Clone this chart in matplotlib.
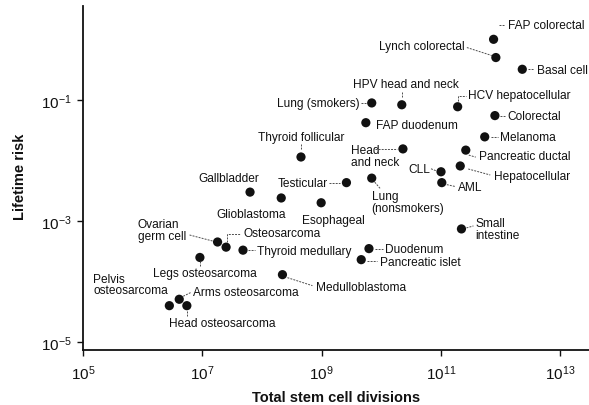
import matplotlib
matplotlib.use("Agg")
import matplotlib.pyplot as plt
from matplotlib.lines import Line2D
from matplotlib.transforms import IdentityTransform

plt.rcParams['font.family'] = ['Liberation Sans', 'DejaVu Sans']

# ---------------- data ----------------
labels = [
    "FAP colorectal", "Lynch colorectal", "Basal cell", "HPV head and neck",
    "Lung (smokers)", "HCV hepatocellular", "Colorectal", "FAP duodenum",
    "Melanoma", "Head\nand neck", "Pancreatic ductal", "Thyroid follicular",
    "Hepatocellular", "CLL", "AML", "Testicular", "Gallbladder", "Glioblastoma",
    "Lung\n(nonsmokers)", "Esophageal", "Small\nintestine", "Duodenum",
    "Pancreatic islet", "Medulloblastoma", "Thyroid medullary", "Osteosarcoma",
    "Ovarian\ngerm cell", "Legs osteosarcoma", "Arms osteosarcoma",
    "Pelvis\nosteosarcoma", "Head osteosarcoma",
]
stem_cell_divisions = [
    7.6e11, 8.3e11, 2.3e12, 2.2e10,
    6.9e9, 1.9e11, 8.0e11, 5.5e9,
    5.4e11, 2.3e10, 2.6e11, 4.5e8,
    2.1e11, 1.0e11, 1.03e11, 2.6e9, 6.3e7, 2.1e8,
    6.9e9, 9.8e8, 2.2e11, 6.2e9,
    4.6e9, 2.2e8, 4.8e7, 2.5e7,
    1.8e7, 9.1e6, 4.1e6,
    2.8e6, 5.5e6,
]
lifetime_risk = [
    1.0, 0.5, 0.32, 0.083,
    0.089, 0.077, 0.055, 0.042,
    0.0245, 0.0155, 0.0148, 0.0114,
    0.0081, 0.0065, 0.0043, 0.0043, 0.0030, 0.0024,
    0.0051, 0.0020, 0.00074, 0.00035,
    0.00023, 0.00013, 0.00033, 0.00037,
    0.00045, 0.00025, 5.1e-5,
    4.0e-5, 4.0e-5,
]
x_ticks = [1e5, 1e7, 1e9, 1e11, 1e13]
y_ticks = [1e-5, 1e-3, 1e-1]
x_label = "Total stem cell divisions"
y_label = "Lifetime risk"

# ---------------- layout (pixel offsets from each dot, y downward) ----------------
text_pos = {
    "FAP colorectal": (14, -14, "left"),
    "Lynch colorectal": (-31, -12, "right"),
    "Basal cell": (15, 1, "left"),
    "HPV head and neck": (4, -21, "center"),
    "Lung (smokers)": (-12, 0, "right"),
    "HCV hepatocellular": (10, -12, "left"),
    "Colorectal": (12, 0, "left"),
    "FAP duodenum": (10, 2, "left"),
    "Melanoma": (15, 0, "left"),
    "Head\nand neck": (-52, 7, "left"),
    "Pancreatic ductal": (13, 6, "left"),
    "Thyroid follicular": (0, -20, "center"),
    "Hepatocellular": (34, 10, "left"),
    "CLL": (-11, -3, "right"),
    "AML": (16, 4, "left"),
    "Testicular": (-19, 0, "right"),
    "Gallbladder": (-21, -14, "center"),
    "Glioblastoma": (-30, 16, "center"),
    "Lung\n(nonsmokers)": (0, 24, "left"),
    "Esophageal": (12, 17, "center"),
    "Small\nintestine": (14, 0, "left"),
    "Duodenum": (16, 0, "left"),
    "Pancreatic islet": (19, 2, "left"),
    "Medulloblastoma": (34, 12, "left"),
    "Thyroid medullary": (14, 1, "left"),
    "Osteosarcoma": (17, -14, "left"),
    "Ovarian\ngerm cell": (-80, -12, "left"),
    "Legs osteosarcoma": (5, 16, "center"),
    "Arms osteosarcoma": (14, -7, "left"),
    "Pelvis\nosteosarcoma": (-76, -21, "left"),
    "Head osteosarcoma": (35, 17, "center"),
}
leaders = {
    "FAP colorectal": [(5, -14), (10, -14)],
    "Lynch colorectal": [(-29, -10), (-4, -2)],
    "Basal cell": [(6, 0), (12, 0)],
    "HPV head and neck": [(0, -13), (0, -8)],
    "Lung (smokers)": [(-11, 0), (-6, 0)],
    "HCV hepatocellular": [(0, -6), (0, -11), (8, -11)],
    "Colorectal": [(5, 0), (10, 0)],
    "Melanoma": [(6, 0), (13, 0)],
    "Head\nand neck": [(-28, 0), (-6, 0)],
    "Pancreatic ductal": [(3, 5), (10, 7)],
    "Thyroid follicular": [(0, -13), (0, -8)],
    "Hepatocellular": [(8, 3), (30, 9)],
    "CLL": [(-10, -3), (-5, -1)],
    "AML": [(5, 2), (14, 4)],
    "Testicular": [(-17, 0), (-6, 0)],
    "Lung\n(nonsmokers)": [(3, 4), (9, 11)],
    "Small\nintestine": [(5, -1), (12, -3)],
    "Duodenum": [(6, 0), (14, 0)],
    "Pancreatic islet": [(6, 1), (16, 1)],
    "Medulloblastoma": [(5, 3), (30, 11)],
    "Thyroid medullary": [(5, 0), (12, 0)],
    "Osteosarcoma": [(1, -5), (1, -13), (14, -13)],
    "Ovarian\ngerm cell": [(-28, -7), (-5, -1)],
    "Legs osteosarcoma": [(0, 4), (0, 9)],
    "Arms osteosarcoma": [(4, -3), (12, -7)],
    "Head osteosarcoma": [(0, 5), (0, 10)],
}

INK = "#111111"
W, H = 589, 406
fig = plt.figure(figsize=(W / 100, H / 100), dpi=100)
ax = fig.add_axes([83 / W, 1 - 351 / H, (W - 83) / W, (351 - 7) / H])

ax.set_xscale("log")
ax.set_yscale("log")
ax.set_xlim(1e5, 10 ** 13.48)
ax.set_ylim(10 ** -5.13, 10 ** 0.55)

ax.scatter(stem_cell_divisions, lifetime_risk, s=44, color=INK, zorder=3,
           edgecolors="none")

for sp in ("top", "right"):
    ax.spines[sp].set_visible(False)
for sp in ("left", "bottom"):
    ax.spines[sp].set_linewidth(1.3)
    ax.spines[sp].set_color(INK)

ax.set_xticks(x_ticks)
ax.set_yticks(y_ticks)
ax.minorticks_off()
ax.tick_params(axis="both", which="major", direction="out", length=4,
               width=1, color=INK, labelsize=11, labelcolor=INK)
ax.tick_params(axis="x", pad=6)
ax.tick_params(axis="y", pad=4)

ax.set_xlabel(x_label, fontsize=10.5, fontweight="bold", color=INK,
              va="center")
ax.xaxis.set_label_coords(0.5, -(398 - 351) / 344)
ax.set_ylabel(y_label, fontsize=10.5, fontweight="bold", color=INK,
              va="center")
ax.yaxis.set_label_coords(-(83 - 20) / 506, 1 - (177 - 7) / 344)

for lab, x, y in zip(labels, stem_cell_divisions, lifetime_risk):
    dx, dy, ha = text_pos[lab]
    ax.annotate(lab, xy=(x, y), xytext=(dx, -dy), textcoords="offset pixels",
                ha=ha, va="center", fontsize=8.6, color=INK,
                linespacing=0.95, multialignment="left")

fig.canvas.draw()
for lab, x, y in zip(labels, stem_cell_divisions, lifetime_risk):
    if lab not in leaders:
        continue
    ox, oy = ax.transData.transform((x, y))
    pts = leaders[lab]
    ln = Line2D([ox + p[0] for p in pts], [oy - p[1] for p in pts],
                transform=IdentityTransform(), color="0.3", lw=0.7,
                linestyle=(0, (2, 1.2)), clip_on=False)
    fig.add_artist(ln)

fig.savefig("out.png", dpi=100)
